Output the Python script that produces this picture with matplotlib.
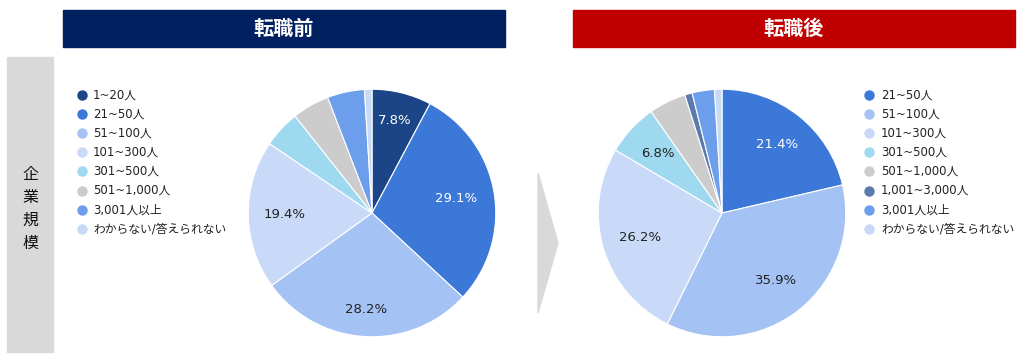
import matplotlib
matplotlib.use("Agg")
import matplotlib.pyplot as plt
from matplotlib.patches import Rectangle, Polygon
from matplotlib.lines import Line2D

plt.rcParams['font.family'] = ['Noto Sans CJK JP', 'DejaVu Sans']
latin_first = ['DejaVu Sans', 'Noto Sans CJK JP']

# data (counts, n=103 each)
before_labels = ['1~20人', '21~50人', '51~100人', '101~300人', '301~500人',
                 '501~1,000人', '3,001人以上', 'わからない/答えられない']
before_counts = [8, 30, 29, 20, 5, 5, 5, 1]
before_colors = ['#1c4587', '#3c78d8', '#a4c2f4', '#c9daf8', '#9fd9f0',
                 '#cccccc', '#6d9eeb', '#c6d9f7']
before_text = ['white', 'white', '#222222', '#222222', '#222222', '#222222', '#222222', '#222222']
before_dist = [0.77, 0.69, 0.78, 0.71, 0.7, 0.7, 0.7, 0.7]

after_labels = ['21~50人', '51~100人', '101~300人', '301~500人', '501~1,000人',
                '1,001~3,000人', '3,001人以上', 'わからない/答えられない']
after_counts = [22, 37, 27, 7, 5, 1, 3, 1]
after_colors = ['#3c78d8', '#a4c2f4', '#c9daf8', '#9fd9f0', '#cccccc',
                '#5a7bab', '#6d9eeb', '#c6d9f7']
after_text = ['white', '#222222', '#222222', '#222222', '#222222', '#222222', '#222222', '#222222']
after_dist = [0.71, 0.7, 0.69, 0.71, 0.7, 0.7, 0.7, 0.7]

W, H = 1024, 360
fig = plt.figure(figsize=(W / 100, H / 100), dpi=100)


def fx(x):
    return x / W


def fy(y):
    return 1 - y / H


# headers
for x0, x1, col, title in [(63, 505, '#002060', '転職前'), (573, 1015, '#c00000', '転職後')]:
    fig.patches.append(Rectangle((fx(x0), fy(47)), fx(x1 - x0), (47 - 10) / H,
                                 transform=fig.transFigure, color=col, zorder=0))
    fig.text(fx((x0 + x1) / 2), fy(28.5), title, color='white', fontsize=14.5,
             fontweight='bold', ha='center', va='center')

# side bar
fig.patches.append(Rectangle((fx(7), fy(352)), fx(46), (352 - 57) / H,
                             transform=fig.transFigure, color='#d9d9d9', zorder=0))
fig.text(fx(30), fy(209), '\n'.join('企業規模'), fontsize=11.5, ha='center', va='center',
         linespacing=1.45, color='#111111')

# arrow
fig.patches.append(Polygon([(fx(538), fy(173)), (fx(558), fy(243)), (fx(538), fy(313))],
                           closed=True, transform=fig.transFigure, color='#d9d9d9'))


def draw_pie(cx, counts, colors, tcolors, dists):
    r = 125
    ax = fig.add_axes([fx(cx - r), fy(213 + r), fx(2 * r), 2 * r / H])
    wedges, texts, autotexts = ax.pie(
        counts, colors=colors, startangle=90, counterclock=False,
        autopct=lambda p: f'{p:.1f}%' if p > 6 else '', pctdistance=1.0,
        wedgeprops=dict(edgecolor='white', linewidth=0.8),
        textprops=dict(fontsize=9.5, family=latin_first))
    # pctdistance=1 puts the text on the rim; pull it in per slice
    for t, c, d in zip(autotexts, tcolors, dists):
        x, y = t.get_position()
        t.set_position((x * d, y * d))
        t.set_color(c)
    ax.set_xlim(-1.01, 1.01)
    ax.set_ylim(-1.01, 1.01)
    ax.axis('off')


def draw_legend(mx, tx, labels, colors):
    for i, (lab, col) in enumerate(zip(labels, colors)):
        y = 95 + i * 19.1
        fig.add_artist(Line2D([fx(mx)], [fy(y)], marker='o', markersize=6.5,
                              color=col, linestyle='none', transform=fig.transFigure))
        fig.text(fx(tx), fy(y), lab, fontsize=8.5, va='center', ha='left',
                 color='#222222', family=latin_first)


draw_pie(372, before_counts, before_colors, before_text, before_dist)
draw_pie(722, after_counts, after_colors, after_text, after_dist)
draw_legend(82, 93, before_labels, before_colors)
draw_legend(869, 881, after_labels, after_colors)

fig.savefig('out.png', dpi=100)
